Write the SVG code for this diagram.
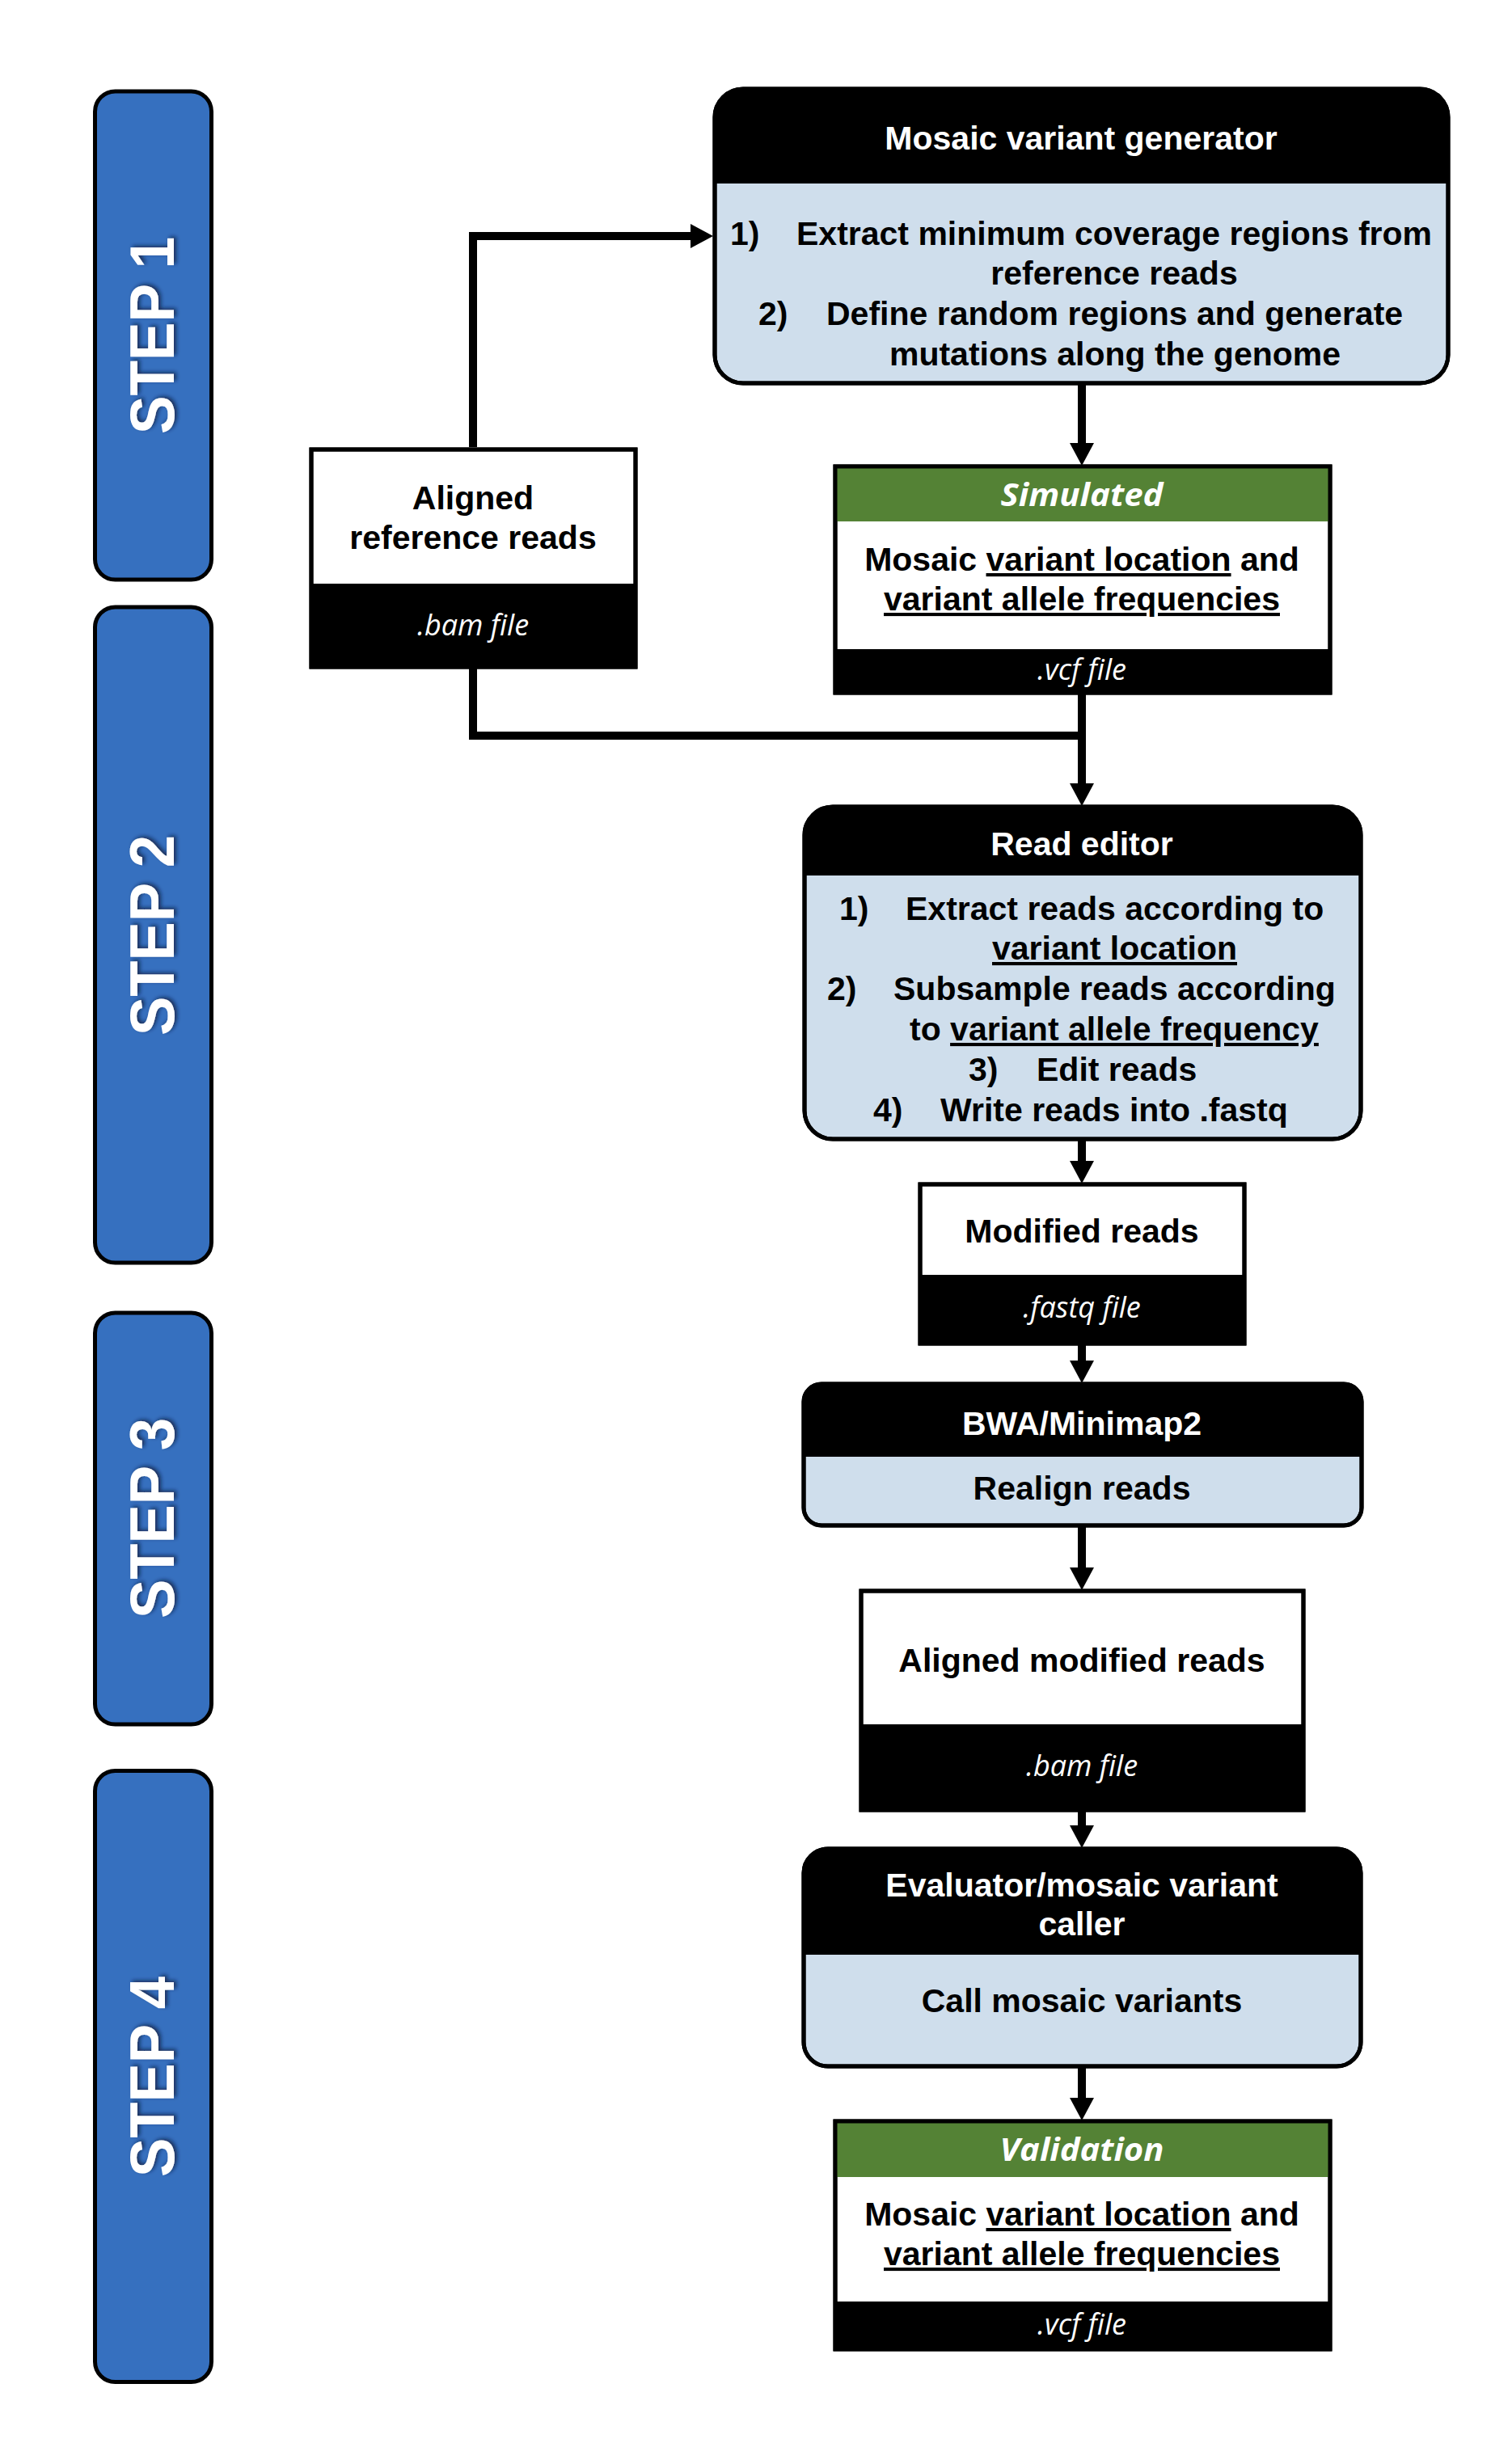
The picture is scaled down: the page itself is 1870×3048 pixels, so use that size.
<svg xmlns="http://www.w3.org/2000/svg" width="1870" height="3048" viewBox="0 0 1870 3048">
  <defs>
    <style>
      .step { fill: #3670BF; stroke: #000; stroke-width: 5; }
      .steptxt { font-family: "Liberation Sans", Arial, sans-serif; font-weight: bold; font-size: 78px; fill: #fff; text-anchor: middle; }
      .panel { fill: #CFDEEC; stroke: #000; stroke-width: 5; }
      .hdr { fill: #000; }
      .file { fill: #fff; stroke: #000; stroke-width: 5; }
      .band { fill: #000; }
      .green { fill: #548235; }
      .outline { fill: none; stroke: #000; stroke-width: 5; }
      .b { font-family: "Liberation Sans", Arial, sans-serif; font-weight: bold; font-size: 41px; fill: #000; }
      .bw { font-family: "Liberation Sans", Arial, sans-serif; font-weight: bold; font-size: 41px; fill: #fff; }
      .c { text-anchor: middle; }
      .it { font-family: "Open Sans", "Noto Sans", sans-serif; font-style: italic; font-size: 36px; fill: #fff; text-anchor: middle; }
      .tag { font-family: "Open Sans", "Noto Sans", sans-serif; font-style: italic; font-weight: bold; font-size: 40px; fill: #fff; text-anchor: middle; }
      .u { text-decoration: underline; }
      .conn { fill: none; stroke: #000; stroke-width: 10; stroke-linejoin: miter; }
    </style>
    <marker id="arrow" markerUnits="userSpaceOnUse" viewBox="0 -15 28 30" refX="1" refY="0" markerWidth="28" markerHeight="30" orient="auto">
      <path d="M0,-15 L28,0 L0,15 Z" fill="#000"/>
    </marker>
    <filter id="shadow" x="-20%" y="-40%" width="140%" height="180%">
      <feDropShadow dx="2" dy="3" stdDeviation="2.5" flood-color="#0a1a3a" flood-opacity="0.75"/>
    </filter>
  </defs>

  <rect width="1870" height="3048" fill="#fff"/>

  <!-- Step labels -->
  <g id="step1">
    <rect class="step" x="117.5" y="113" width="144" height="604" rx="25"/>
    <text class="steptxt" transform="translate(187,415) rotate(-90)" x="0" y="28" textLength="244" lengthAdjust="spacingAndGlyphs" filter="url(#shadow)">STEP 1</text>
  </g>
  <g id="step2">
    <rect class="step" x="117.5" y="751" width="144" height="811" rx="25"/>
    <text class="steptxt" transform="translate(187,1157) rotate(-90)" x="0" y="28" textLength="248" lengthAdjust="spacingAndGlyphs" filter="url(#shadow)">STEP 2</text>
  </g>
  <g id="step3">
    <rect class="step" x="117.5" y="1624" width="144" height="509" rx="25"/>
    <text class="steptxt" transform="translate(187,1878) rotate(-90)" x="0" y="28" textLength="248" lengthAdjust="spacingAndGlyphs" filter="url(#shadow)">STEP 3</text>
  </g>
  <g id="step4">
    <rect class="step" x="117.5" y="2190.5" width="144" height="756" rx="25"/>
    <text class="steptxt" transform="translate(187,2569) rotate(-90)" x="0" y="28" textLength="248" lengthAdjust="spacingAndGlyphs" filter="url(#shadow)">STEP 4</text>
  </g>

  <!-- Connectors -->
  <g id="connectors">
    <path class="conn" d="M585,553 V292 H855" marker-end="url(#arrow)"/>
    <path class="conn" d="M585,826 V910 H1338"/>
    <path class="conn" d="M1338,476 V549" marker-end="url(#arrow)"/>
    <path class="conn" d="M1338,857 V970" marker-end="url(#arrow)"/>
    <path class="conn" d="M1338,1409 V1437" marker-end="url(#arrow)"/>
    <path class="conn" d="M1338,1662 V1684" marker-end="url(#arrow)"/>
    <path class="conn" d="M1338,1887 V1940" marker-end="url(#arrow)"/>
    <path class="conn" d="M1338,2239 V2259" marker-end="url(#arrow)"/>
    <path class="conn" d="M1338,2556 V2596" marker-end="url(#arrow)"/>
  </g>

  <!-- Mosaic variant generator -->
  <g id="generator">
    <rect class="panel" x="884" y="110" width="907" height="364" rx="35"/>
    <path class="hdr" d="M884,227 V145 A35,35 0 0 1 919,110 H1756 A35,35 0 0 1 1791,145 V227 Z"/>
    <rect class="outline" x="884" y="110" width="907" height="364" rx="35"/>
    <text class="bw c" x="1337" y="185">Mosaic variant generator</text>
    <text class="b" x="903" y="303">1)</text>
    <text class="b" x="985" y="303">Extract minimum coverage regions from</text>
    <text class="b c" x="1378" y="352">reference reads</text>
    <text class="b" x="938" y="402">2)</text>
    <text class="b" x="1022" y="402">Define random regions and generate</text>
    <text class="b c" x="1379" y="452">mutations along the genome</text>
  </g>

  <!-- Aligned reference reads -->
  <g id="aligned-reference">
    <rect class="file" x="385" y="556" width="401" height="269"/>
    <rect class="band" x="385" y="722" width="401" height="103"/>
    <rect class="outline" x="385" y="556" width="401" height="269"/>
    <text class="b c" x="585" y="630">Aligned</text>
    <text class="b c" x="585" y="679">reference reads</text>
    <text class="it" x="585" y="786">.bam file</text>
  </g>

  <!-- Simulated variants -->
  <g id="simulated">
    <rect class="file" x="1033" y="577" width="612" height="280"/>
    <rect class="green" x="1033" y="577" width="612" height="68"/>
    <rect class="band" x="1033" y="803" width="612" height="54"/>
    <rect class="outline" x="1033" y="577" width="612" height="280"/>
    <text class="tag" x="1338" y="626" textLength="201" lengthAdjust="spacingAndGlyphs">Simulated</text>
    <text class="b c" x="1338" y="706">Mosaic <tspan class="u">variant location</tspan> and</text>
    <text class="b c" x="1338" y="755"><tspan class="u">variant allele frequencies</tspan></text>
    <text class="it" x="1338" y="841">.vcf file</text>
  </g>

  <!-- Read editor -->
  <g id="read-editor">
    <rect class="panel" x="995" y="998" width="688" height="411" rx="35"/>
    <path class="hdr" d="M995,1083 V1033 A35,35 0 0 1 1030,998 H1648 A35,35 0 0 1 1683,1033 V1083 Z"/>
    <rect class="outline" x="995" y="998" width="688" height="411" rx="35"/>
    <text class="bw c" x="1338" y="1058">Read editor</text>
    <text class="b" x="1038" y="1138">1)</text>
    <text class="b" x="1120" y="1138">Extract reads according to</text>
    <text class="b" x="1227" y="1187"><tspan class="u">variant location</tspan></text>
    <text class="b" x="1023" y="1237">2)</text>
    <text class="b" x="1105" y="1237">Subsample reads according</text>
    <text class="b" x="1125" y="1287">to <tspan class="u">variant allele frequency</tspan></text>
    <text class="b" x="1198" y="1337">3)</text>
    <text class="b" x="1282" y="1337">Edit reads</text>
    <text class="b" x="1080" y="1387">4)</text>
    <text class="b" x="1163" y="1387">Write reads into .fastq</text>
  </g>

  <!-- Modified reads -->
  <g id="modified-reads">
    <rect class="file" x="1138" y="1465" width="401" height="197"/>
    <rect class="band" x="1138" y="1577" width="401" height="85"/>
    <rect class="outline" x="1138" y="1465" width="401" height="197"/>
    <text class="b c" x="1338" y="1537">Modified reads</text>
    <text class="it" x="1338" y="1630">.fastq file</text>
  </g>

  <!-- BWA/Minimap2 -->
  <g id="aligner">
    <rect class="panel" x="994" y="1712" width="690" height="175" rx="22"/>
    <path class="hdr" d="M994,1802 V1734 A22,22 0 0 1 1016,1712 H1662 A22,22 0 0 1 1684,1734 V1802 Z"/>
    <rect class="outline" x="994" y="1712" width="690" height="175" rx="22"/>
    <text class="bw c" x="1338" y="1775">BWA/Minimap2</text>
    <text class="b c" x="1338" y="1855">Realign reads</text>
  </g>

  <!-- Aligned modified reads -->
  <g id="aligned-modified">
    <rect class="file" x="1065" y="1968" width="547" height="271"/>
    <rect class="band" x="1065" y="2133" width="547" height="106"/>
    <rect class="outline" x="1065" y="1968" width="547" height="271"/>
    <text class="b c" x="1338" y="2068">Aligned modified reads</text>
    <text class="it" x="1338" y="2197">.bam file</text>
  </g>

  <!-- Evaluator / mosaic variant caller -->
  <g id="evaluator">
    <rect class="panel" x="994" y="2287" width="689" height="269" rx="30"/>
    <path class="hdr" d="M994,2418 V2317 A30,30 0 0 1 1024,2287 H1653 A30,30 0 0 1 1683,2317 V2418 Z"/>
    <rect class="outline" x="994" y="2287" width="689" height="269" rx="30"/>
    <text class="bw c" x="1338" y="2346">Evaluator/mosaic variant</text>
    <text class="bw c" x="1338" y="2394">caller</text>
    <text class="b c" x="1338" y="2489">Call mosaic variants</text>
  </g>

  <!-- Validation -->
  <g id="validation">
    <rect class="file" x="1033" y="2624" width="612" height="282"/>
    <rect class="green" x="1033" y="2624" width="612" height="69"/>
    <rect class="band" x="1033" y="2847" width="612" height="59"/>
    <rect class="outline" x="1033" y="2624" width="612" height="282"/>
    <text class="tag" x="1338" y="2673" textLength="203" lengthAdjust="spacingAndGlyphs">Validation</text>
    <text class="b c" x="1338" y="2753">Mosaic <tspan class="u">variant location</tspan> and</text>
    <text class="b c" x="1338" y="2802"><tspan class="u">variant allele frequencies</tspan></text>
    <text class="it" x="1338" y="2888">.vcf file</text>
  </g>
</svg>
